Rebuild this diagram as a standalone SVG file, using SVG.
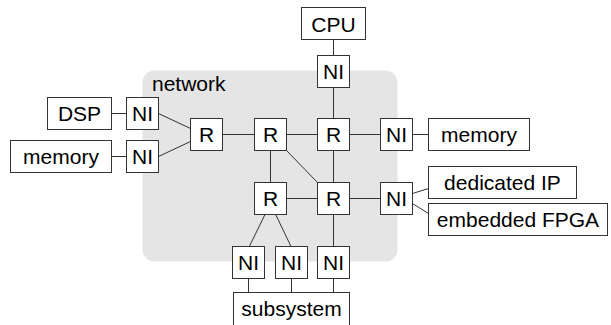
<svg xmlns="http://www.w3.org/2000/svg" width="611" height="325" viewBox="0 0 611 325">
<style>
.b{fill:#fff;stroke:#333;stroke-width:1}
.t{font-family:"Liberation Sans",Arial,sans-serif;font-size:21px;fill:#000;text-anchor:middle}
.c line{stroke:#333;stroke-width:1}
</style>
<rect x="0" y="0" width="611" height="325" fill="#fff"/>
<g id="network">
<rect x="142.5" y="70.5" width="255" height="191" rx="12" fill="#e5e5e5"/>
<text x="152" y="90.5" class="t" style="text-anchor:start">network</text>
</g>
<g class="c" id="connectors">
<line x1="333.5" y1="39.5" x2="333.5" y2="55.5"/>
<line x1="333.5" y1="87.5" x2="333.5" y2="118.5"/>
<line x1="111.5" y1="113.5" x2="126.5" y2="113.5"/>
<line x1="111.5" y1="156.5" x2="126.5" y2="156.5"/>
<line x1="158.5" y1="113.5" x2="190.5" y2="128.5"/>
<line x1="158.5" y1="156.5" x2="190.5" y2="141.5"/>
<line x1="222.5" y1="134.5" x2="254.5" y2="134.5"/>
<line x1="286.5" y1="134.5" x2="317.5" y2="134.5"/>
<line x1="349.5" y1="134.5" x2="380.5" y2="134.5"/>
<line x1="412.5" y1="134.5" x2="428.5" y2="134.5"/>
<line x1="270.5" y1="150.5" x2="270.5" y2="182.5"/>
<line x1="286.5" y1="150.5" x2="317.5" y2="182.5"/>
<line x1="333.5" y1="150.5" x2="333.5" y2="182.5"/>
<line x1="286.5" y1="198.5" x2="317.5" y2="198.5"/>
<line x1="349.5" y1="198.5" x2="380.5" y2="198.5"/>
<line x1="412.5" y1="193.5" x2="428.5" y2="188.5"/>
<line x1="412.5" y1="203.5" x2="428.5" y2="213.5"/>
<line x1="265" y1="214.5" x2="249.3" y2="246.5"/>
<line x1="275.7" y1="214.5" x2="291" y2="246.5"/>
<line x1="333.5" y1="214.5" x2="333.5" y2="246.5"/>
<line x1="248.5" y1="278.5" x2="248.5" y2="292.5"/>
<line x1="291.5" y1="278.5" x2="291.5" y2="292.5"/>
<line x1="333.5" y1="278.5" x2="333.5" y2="292.5"/>
</g>
<g id="cpu"><rect class="b" x="301.5" y="7.5" width="64" height="32"/><text class="t" x="333.5" y="31.5">CPU</text></g>
<g id="ni-cpu"><rect class="b" x="317.5" y="55.5" width="32" height="32"/><text class="t" x="333.5" y="79">NI</text></g>
<g id="dsp"><rect class="b" x="47.5" y="97.5" width="64" height="32"/><text class="t" x="79.5" y="121">DSP</text></g>
<g id="ni-dsp"><rect class="b" x="126.5" y="97.5" width="32" height="32"/><text class="t" x="142.5" y="121">NI</text></g>
<g id="memory-left"><rect class="b" x="10.5" y="140.5" width="101" height="32"/><text class="t" x="61" y="163.5">memory</text></g>
<g id="ni-memory-left"><rect class="b" x="126.5" y="140.5" width="32" height="32"/><text class="t" x="142.5" y="164">NI</text></g>
<g id="r1"><rect class="b" x="190.5" y="118.5" width="32" height="32"/><text class="t" x="206.5" y="142">R</text></g>
<g id="r2"><rect class="b" x="254.5" y="118.5" width="32" height="32"/><text class="t" x="270.5" y="142">R</text></g>
<g id="r3"><rect class="b" x="317.5" y="118.5" width="32" height="32"/><text class="t" x="333.5" y="142">R</text></g>
<g id="ni-memory-right"><rect class="b" x="380.5" y="118.5" width="32" height="32"/><text class="t" x="396.5" y="142">NI</text></g>
<g id="memory-right"><rect class="b" x="428.5" y="118.5" width="101" height="32"/><text class="t" x="479" y="141.5">memory</text></g>
<g id="r4"><rect class="b" x="254.5" y="182.5" width="32" height="32"/><text class="t" x="270.5" y="206">R</text></g>
<g id="r5"><rect class="b" x="317.5" y="182.5" width="32" height="32"/><text class="t" x="333.5" y="206">R</text></g>
<g id="ni-ip"><rect class="b" x="380.5" y="182.5" width="32" height="32"/><text class="t" x="396.5" y="206">NI</text></g>
<g id="dedicated-ip"><rect class="b" x="428.5" y="166.5" width="148" height="32"/><text class="t" x="502.5" y="189.5">dedicated IP</text></g>
<g id="embedded-fpga"><rect class="b" x="428.5" y="203.5" width="179" height="32"/><text class="t" x="518" y="226.5">embedded FPGA</text></g>
<g id="ni-b1"><rect class="b" x="232.5" y="246.5" width="32" height="32"/><text class="t" x="248.5" y="270">NI</text></g>
<g id="ni-b2"><rect class="b" x="275.5" y="246.5" width="32" height="32"/><text class="t" x="291.5" y="270">NI</text></g>
<g id="ni-b3"><rect class="b" x="317.5" y="246.5" width="32" height="32"/><text class="t" x="333.5" y="270">NI</text></g>
<g id="subsystem"><rect class="b" x="233.5" y="292.5" width="116" height="40"/><text class="t" x="291.5" y="315.5">subsystem</text></g>
</svg>
